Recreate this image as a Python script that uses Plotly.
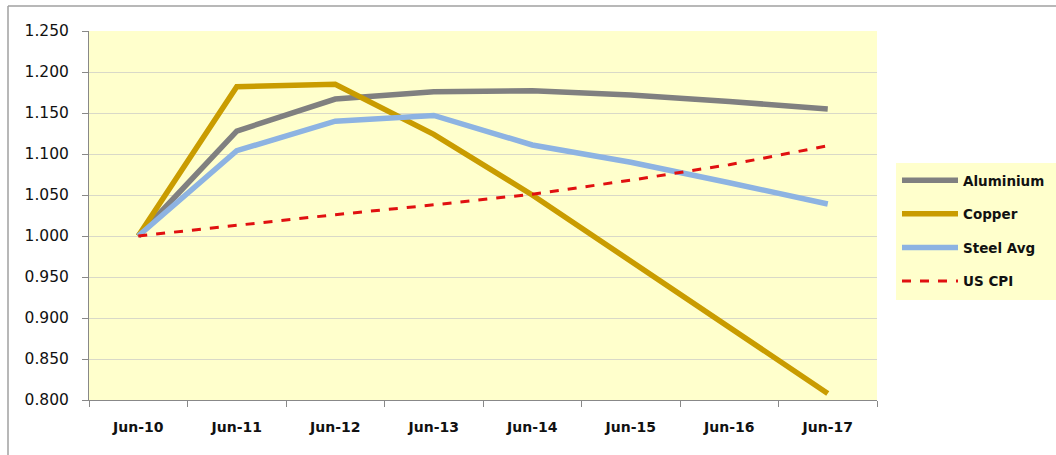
import plotly.graph_objects as go

categories = ["Jun-10", "Jun-11", "Jun-12", "Jun-13", "Jun-14", "Jun-15", "Jun-16", "Jun-17"]
aluminium = [1.000, 1.128, 1.167, 1.176, 1.177, 1.172, 1.164, 1.155]
copper = [1.000, 1.182, 1.185, 1.124, 1.050, 0.970, 0.889, 0.808]
steel_avg = [1.000, 1.104, 1.140, 1.147, 1.111, 1.090, 1.065, 1.039]
us_cpi = [1.000, 1.013, 1.026, 1.038, 1.051, 1.068, 1.087, 1.110]

W, H = 1056, 455
L, R, T, B = 89, 179, 31, 55
pw, ph = W - L - R, H - T - B


def px(x):
    return (x - L) / pw


def py(y):
    return (H - B - y) / ph


fig = go.Figure()
series = [
    ("Aluminium", aluminium, "#808080", "solid"),
    ("Copper", copper, "#C99C00", "solid"),
    ("Steel Avg", steel_avg, "#8DB3E2", "solid"),
    ("US CPI", us_cpi, "#E01010", "dash"),
]
for name, vals, col, dash in series:
    fig.add_trace(go.Scatter(
        x=categories, y=vals, name=f"<b>{name}</b>", mode="lines",
        legendgroup=name,
        line=dict(color=col, width=3 if dash == "dash" else 5.5, dash=dash),
    ))

FONT = "DejaVu Sans, Arial, sans-serif"
fig.update_layout(
    width=W, height=H,
    margin=dict(l=L, r=R, t=T, b=B, autoexpand=False),
    paper_bgcolor="white",
    plot_bgcolor="#FFFFCC",
    font=dict(family=FONT, color="#111111"),
    showlegend=True,
    legend=dict(
        x=px(897), y=py(165), xanchor="left", yanchor="top",
        bgcolor="rgba(0,0,0,0)", font=dict(size=13.5, family=FONT, color="#111111"),
        tracegroupgap=13, itemwidth=56,
    ),
    xaxis=dict(
        type="category", tickson="boundaries", ticks="outside", ticklen=6,
        tickcolor="#888888", showline=True, linecolor="#888888", linewidth=1,
        showgrid=False, tickfont=dict(size=14, family=FONT, color="#111111"),
        range=[-0.5, 7.5], ticklabelstandoff=14,
        tickvals=categories, ticktext=[f"<b>{c}</b>" for c in categories],
    ),
    yaxis=dict(
        range=[0.8, 1.25], dtick=0.05, tickformat=".3f",
        ticks="outside", ticklen=6, tickcolor="#888888",
        showline=True, linecolor="#888888", linewidth=1,
        showgrid=True, gridcolor="#D9D9C8", gridwidth=1,
        tickfont=dict(size=15.5, family=FONT, color="#111111"),
        zeroline=False, ticklabelstandoff=10,
    ),
    shapes=[
        dict(type="line", xref="paper", yref="paper",
             x0=px(8), x1=px(1060), y0=py(6), y1=py(6),
             line=dict(color="#A0A0A0", width=1.5), layer="below"),
        dict(type="line", xref="paper", yref="paper",
             x0=px(8), x1=px(8), y0=py(6), y1=py(460),
             line=dict(color="#A0A0A0", width=1.5), layer="below"),
        dict(type="rect", xref="paper", yref="paper",
             x0=px(896), x1=px(1060), y0=py(300), y1=py(163),
             line=dict(width=0), fillcolor="#FFFFCC", layer="below"),
    ],
)

fig.write_html("out.html")
